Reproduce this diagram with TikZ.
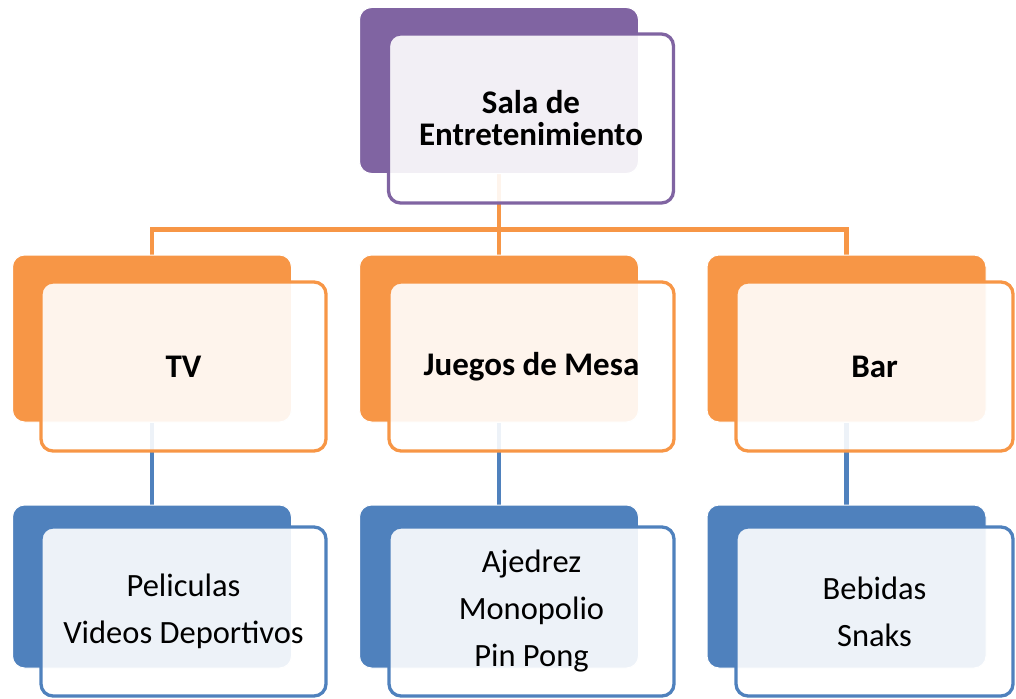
\documentclass[tikz,border=0pt]{standalone}
\usepackage{fontspec}
\setmainfont{Carlito}
\definecolor{cpurple}{HTML}{8064A2}
\definecolor{corange}{HTML}{F79646}
\definecolor{cblue}{HTML}{4F81BD}
\begin{document}
\begin{tikzpicture}[x=1pt,y=-1pt,
  backbox/.style={rectangle,rounded corners=12pt,inner sep=0pt,fill=#1,draw=white,line width=1pt,
     minimum width=279pt,minimum height=166pt},
  frontbox/.style={rectangle,rounded corners=12pt,inner sep=0pt,fill=white,fill opacity=0.9,text opacity=1,
     draw=#1,line width=3.3pt,minimum width=285pt,minimum height=169pt,align=center},
  headtext/.style={font=\bfseries\fontsize{33}{32}\selectfont},
  subtext/.style={font=\bfseries\fontsize{33}{32}\selectfont},
  leaftext/.style={font=\fontsize{32.5}{47}\selectfont},
  orangeline/.style={draw=corange,line width=4.5pt},
  blueline/.style={draw=cblue,line width=4.5pt}]
\useasboundingbox (0,0) rectangle (1016,698);
% back boxes (positions only, to anchor connectors)
\path
  (499,90.5) node[backbox=cpurple] (topb) {}
  (152,338.5) node[backbox=corange,minimum height=167pt] (tvb) {}
  (499,338.5) node[backbox=corange,minimum height=167pt] (jmb) {}
  (846.5,338.5) node[backbox=corange,minimum height=167pt] (barb) {}
  (152,586.5) node[backbox=cblue,minimum height=163pt] (tvlb) {}
  (499,586.5) node[backbox=cblue,minimum height=163pt] (jmlb) {}
  (846.5,586.5) node[backbox=cblue,minimum height=163pt] (barlb) {};
\coordinate (bus) at (499,229.5);
% connectors (drawn underneath)
\draw[orangeline,line join=miter] (topb.south) -- (topb.south |- bus) -| ([yshift=-5pt]tvb.north);
\draw[orangeline,line join=miter] (topb.south |- bus) -| ([yshift=-5pt]barb.north);
\draw[orangeline] (topb.south |- bus) -- ([yshift=-5pt]jmb.north);
\draw[blueline] (tvb.south) -- ([yshift=-6pt]tvlb.north);
\draw[blueline] (jmb.south) -- ([yshift=-6pt]jmlb.north);
\draw[blueline] (barb.south) -- ([yshift=-6pt]barlb.north);
% redraw back boxes over connectors
\node[backbox=cpurple] at (topb) {};
\node[backbox=corange,minimum height=167pt] at (tvb) {};
\node[backbox=corange,minimum height=167pt] at (jmb) {};
\node[backbox=corange,minimum height=167pt] at (barb) {};
\node[backbox=cblue,minimum height=163pt] at (tvlb) {};
\node[backbox=cblue,minimum height=163pt] at (jmlb) {};
\node[backbox=cblue,minimum height=163pt] at (barlb) {};
% front boxes with text
\node[frontbox=cpurple,headtext] (top) at (531,118.5) {Sala de\\Entretenimiento};
\node[frontbox=corange,subtext] (tv) at (183.5,366.5) {TV};
\node[frontbox=corange,subtext] (jm) at (531.5,366.5) {Juegos de Mesa};
\node[frontbox=corange,subtext,minimum width=277pt] (bar) at (874.5,366.5) {Bar};
\node[frontbox=cblue,leaftext] (tvl) at (183.5,611.5) {Peliculas\\Videos Deportivos};
\node[frontbox=cblue,leaftext] (jml) at (531.5,611.5) {Ajedrez\\Monopolio\\Pin Pong};
\node[frontbox=cblue,leaftext,minimum width=277pt] (barl) at (874.5,611.5) {Bebidas\\Snaks};
\end{tikzpicture}
\end{document}
